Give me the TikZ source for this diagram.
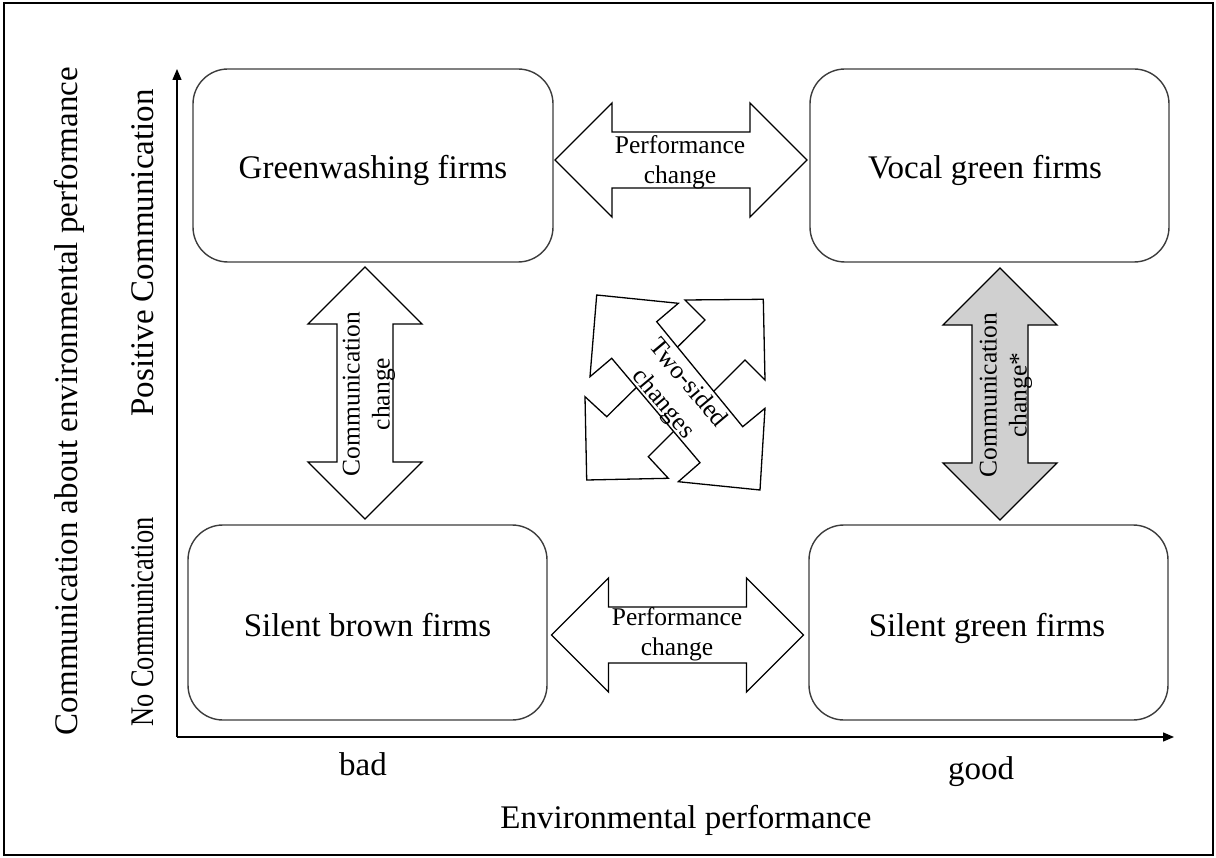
\documentclass[tikz,border=0pt]{standalone}
\usepackage{fontspec}
\usepackage{graphicx}
\setmainfont{Liberation Serif}
\usetikzlibrary{arrows.meta}
\definecolor{arrowgray}{RGB}{208,208,208}
\definecolor{boxline}{RGB}{60,60,60}
\begin{document}
\begin{tikzpicture}[x=1pt,y=-1pt,
  box/.style={draw=boxline, line width=1.4pt, rounded corners=35pt, inner sep=0pt},
  big/.style={font=\fontsize{33}{40}\selectfont, inner sep=0pt},
  lbl/.style={font=\fontsize{25.5}{30}\selectfont, align=center, inner sep=0pt},
  arrowshape/.style={draw=black, line width=1.3pt},
  axis/.style={line width=1.4pt, -{Triangle[length=11pt,width=9pt]}},
  harrow/.pic={\path[pic actions] (-126,0) -- (-69,-57) -- (-69,-28) -- (69,-28) -- (69,-57) -- (126,0) -- (69,57) -- (69,28) -- (-69,28) -- (-69,57) -- cycle;}
]
\useasboundingbox (0,0) rectangle (1216,858);
\draw[line width=2pt] (4,3) rectangle (1213,855);

% axes
\coordinate (o) at (177,737);
\coordinate (ytip) at (177,69);
\coordinate (xtip) at (1174,737);
\draw[axis] (o) -- (ytip);
\draw[axis] (o) -- (xtip);

% boxes
\node[box, minimum width=360pt, minimum height=193pt] (gw) at (373,165.5) {};
\node[box, minimum width=359pt, minimum height=193pt] (vg) at (989.5,165.5) {};
\node[box, minimum width=359pt, minimum height=195pt] (sb) at (367.5,622.5) {};
\node[box, minimum width=359pt, minimum height=195pt] (sg) at (988.5,622.5) {};
\node[big, anchor=base] (gwt) at (373,179) {Greenwashing firms};
\node[big, anchor=base] (vgt) at (985,179) {Vocal green firms};
\node[big, anchor=base] (sbt) at (367.5,636) {Silent brown firms};
\node[big, anchor=base] (sgt) at (987,636) {Silent green firms};

% performance arrows
\pic[arrowshape, fill=white] at (681,160) {harrow};
\node[lbl] (pc1) at (680,162) {Performance\\change};
\pic[arrowshape, fill=white] at (677.5,635) {harrow};
\node[lbl] (pc2) at (677,634) {Performance\\change};

% communication arrows
\pic[arrowshape, fill=white, rotate=90] at (365,393) {harrow};
\node[lbl, rotate=90] (cc1) at (369,394) {Communication\\change};
\pic[arrowshape, fill=arrowgray, rotate=90] at (1000,394) {harrow};
\node[lbl, rotate=90] (cc2) at (1006,395) {Communication\\change*};

% two-sided changes
\draw[arrowshape, fill=white] (763.3,299.3) -- (765,380) -- (745,360) -- (648.3,456.7) -- (668.3,478.3)
  -- (586.7,480) -- (585,396.7) -- (606.7,416.7) -- (705,320) -- (685,300) -- cycle;
\draw[arrowshape, fill=white] (596.7,295) -- (678.3,303.3) -- (656.7,321.7) -- (742.7,426.7) -- (765,408.3)
  -- (760,490) -- (678.3,481.7) -- (700,462.7) -- (611.7,358.3) -- (590,376.7) -- cycle;
\node[lbl, rotate=-50, font=\fontsize{25.5}{32}\selectfont] (two) at (675,394) {Two-sided\\changes};

% axis labels
\node[big, anchor=base] (bad) at (363,775) {bad};
\node[big, anchor=base] (good) at (981,779) {good};
\node[big, anchor=base] (xlab) at (686,828) {Environmental performance};
\node[big, rotate=90, anchor=base] (ylab) at (77,401) {Communication about environmental performance};
\node[big, rotate=90, anchor=base] (pos) at (153,253) {Positive Communication};
\node[big, rotate=90, anchor=base] (noc) at (153,622) {\scalebox{0.8}[1]{No Communication}};
\end{tikzpicture}
\end{document}
